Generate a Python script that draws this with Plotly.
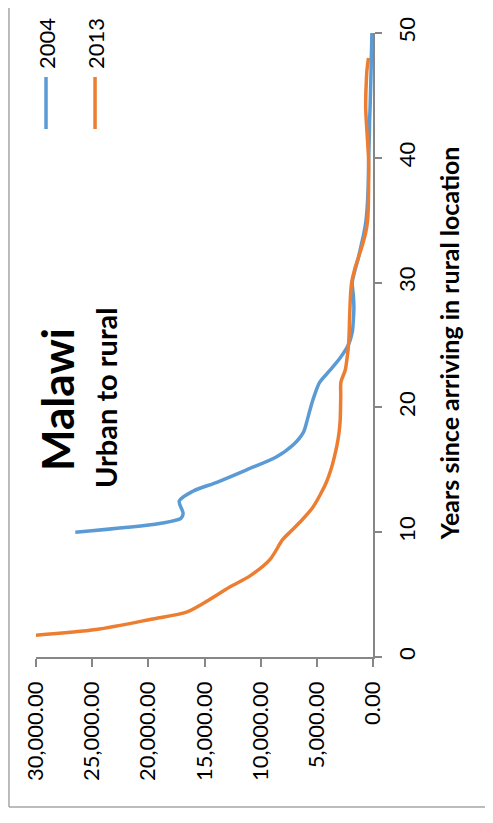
import plotly.graph_objects as go

# ---------------- data ----------------
years_2004 = [10, 10.7, 11.1, 11.5, 12.5, 13.3, 14, 15, 16, 17, 18, 19, 20, 21, 22, 23, 24, 25, 26,
              27, 28, 29, 30, 31, 32, 33, 34, 35, 36, 37, 38, 39, 40, 41, 42, 43, 44, 45, 46, 47,
              48, 49, 50]
values_2004 = [26500, 19000, 17100, 16900, 17250, 16000, 13900, 11250, 8650, 7100, 6200, 5850,
               5550, 5200, 4750, 3800, 2900, 2200, 1850, 1750, 1700, 1750, 1850, 1600, 1300, 1050,
               800, 620, 520, 460, 420, 400, 380, 350, 320, 300, 260, 230, 200, 170, 150, 120, 100]

years_2013 = [1.75, 2.2, 3.05, 3.6, 4.3, 5.6, 6.5, 7.8, 9.4, 10, 11, 12, 13, 14, 15, 16, 17,
              18, 19, 20, 21, 22, 23, 24, 25, 26, 27, 28, 29, 30, 31, 32, 33, 34, 35, 36, 37, 38,
              39, 40, 41, 42, 43, 44, 45, 46, 47, 48]
values_2013 = [30000, 24650, 19600, 16600, 15100, 12750, 10950, 9180, 8050, 7400, 6300, 5350,
               4700, 4150, 3750, 3450, 3200, 3020, 2920, 2890, 2870, 2860, 2470, 2300, 2180, 2120,
               2090, 2050, 2000, 1900, 1650, 1300, 950, 650, 480, 420, 400, 390, 380, 400, 460,
               530, 600, 650, 640, 600, 540, 400]

series_names = ["2004", "2013"]
series_colors = ["#5B9BD5", "#ED7D31"]
value_ticks = [0, 5000, 10000, 15000, 20000, 25000, 30000]
year_ticks = [0, 10, 20, 30, 40, 50]
title_text = "Malawi"
subtitle_text = "Urban to rural"
year_axis_title = "Years since arriving in rural location"

# ---------------- layout helpers ----------------
# the page places the figure 8px in from the top-left corner (default body margin)
OFF = 8
W, H = 493 - OFF, 823 - OFF
L, R, T, B = 36 - OFF, 372.7 - OFF, 33 - OFF, 657 - OFF   # plot area in figure pixels


def px_x(p):
    """page pixel x -> paper coordinate"""
    return (p - OFF - L) / (R - L)


def px_y(p):
    """page pixel y -> paper coordinate"""
    return (B - (p - OFF)) / (B - T)


FONT = "Lato, 'Liberation Sans', Arial, sans-serif"
AXIS_GRAY = "#868686"

fig = go.Figure()
for yrs, vals, name, col in [(years_2004, values_2004, series_names[0], series_colors[0]),
                             (years_2013, values_2013, series_names[1], series_colors[1])]:
    fig.add_trace(go.Scatter(
        x=vals, y=yrs, mode="lines", name=name,
        line=dict(color=col, width=3.5, shape="spline", smoothing=0.8),
        showlegend=False,
    ))

annotations = [
    dict(text=f"<b>{title_text}</b>", x=px_x(57), y=px_y(400), textangle=-90,
         font=dict(size=44, color="black", family=FONT)),
    dict(text=f"<b>{subtitle_text}</b>", x=px_x(106), y=px_y(398), textangle=-90,
         font=dict(size=29, color="black", family=FONT)),
    dict(text=f"<b>{year_axis_title}</b>", x=px_x(449), y=px_y(343), textangle=-90,
         font=dict(size=25, color="black", family=FONT)),
    dict(text=series_names[0], x=px_x(46), y=px_y(44), textangle=-90,
         font=dict(size=22, color="black", family=FONT)),
    dict(text=series_names[1], x=px_x(95), y=px_y(44), textangle=-90,
         font=dict(size=22, color="black", family=FONT)),
]
for a in annotations:
    a.update(xref="paper", yref="paper", showarrow=False, xanchor="center", yanchor="middle")

shapes = [
    # outer chart border (left and bottom edges visible)
    dict(type="line", xref="paper", yref="paper", x0=px_x(9), x1=px_x(9), y0=px_y(0), y1=px_y(807),
         line=dict(color="#A6A6A6", width=1.5)),
    dict(type="line", xref="paper", yref="paper", x0=px_x(9), x1=px_x(500), y0=px_y(807), y1=px_y(807),
         line=dict(color="#A6A6A6", width=1.5)),
    # legend samples
    dict(type="line", xref="paper", yref="paper", x0=px_x(46), x1=px_x(46), y0=px_y(77), y1=px_y(129),
         line=dict(color=series_colors[0], width=3.5)),
    dict(type="line", xref="paper", yref="paper", x0=px_x(95), x1=px_x(95), y0=px_y(77), y1=px_y(129),
         line=dict(color=series_colors[1], width=3.5)),
]

fig.update_layout(
    width=W, height=H,
    margin=dict(l=L, r=W - R, t=T, b=H - B, pad=0, autoexpand=False),
    paper_bgcolor="white", plot_bgcolor="white",
    font=dict(family=FONT, color="black"),
    annotations=annotations, shapes=shapes,
    showlegend=False,
)
fig.update_xaxes(
    range=[30000, 0], tickvals=value_ticks, tickformat=",.2f", tickangle=-90,
    ticks="outside", ticklen=8, tickwidth=1.5, tickcolor=AXIS_GRAY,
    showline=True, linecolor=AXIS_GRAY, linewidth=1.5, automargin=False,
    showgrid=False, zeroline=False, ticklabelstandoff=6,
    tickfont=dict(size=22, family=FONT, color="black"),
)
fig.update_yaxes(
    range=[0, 50], tickvals=year_ticks, side="right", tickangle=-90,
    ticks="outside", ticklen=7, tickwidth=1.5, tickcolor=AXIS_GRAY,
    showline=True, linecolor=AXIS_GRAY, linewidth=1.5, automargin=False,
    showgrid=False, zeroline=False, ticklabelstandoff=7,
    tickfont=dict(size=22, family=FONT, color="black"),
)

fig.write_html("out.html")
